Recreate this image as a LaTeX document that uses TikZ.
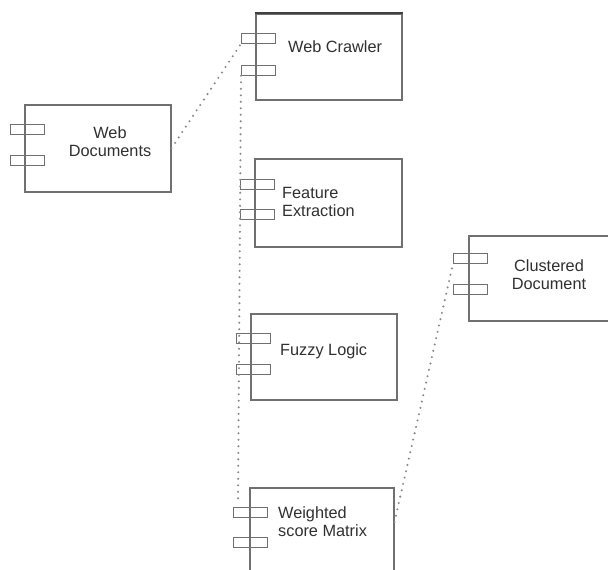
\documentclass[tikz,border=0pt]{standalone}
\usepackage{fontspec}
\setmainfont{Liberation Sans}
\usetikzlibrary{calc}
\definecolor{edgegray}{HTML}{707070}
\definecolor{dotgray}{HTML}{8A8A8A}
\definecolor{txtgray}{HTML}{303030}
\begin{document}
\begin{tikzpicture}[x=1pt,y=-1pt,
  comp/.style={draw=edgegray,line width=1.5pt,inner sep=0pt,anchor=north west},
  port/.style={draw=edgegray,line width=1.3pt,minimum width=34pt,minimum height=9.5pt,inner sep=0pt,anchor=north west},
  lbl/.style={text=txtgray,font=\fontsize{16.3}{18}\selectfont,inner sep=0pt},
  link/.style={draw=dotgray,line width=2.3pt,dash pattern=on 0pt off 6.5pt,line cap=round}]
\useasboundingbox (0,0) rectangle (608,570);
\clip (0,0) rectangle (608,570);
% component boxes
\node[comp,minimum width=146pt,minimum height=86pt] (crawler) at (255,13) {};
\node[comp,minimum width=146pt,minimum height=87pt] (docs) at (24,104) {};
\node[comp,minimum width=147pt,minimum height=88pt] (feature) at (254,158) {};
\node[comp,minimum width=146pt,minimum height=86pt] (fuzzy) at (250,313) {};
\node[comp,minimum width=144pt,minimum height=100pt] (weighted) at (249,487) {};
\node[comp,minimum width=160pt,minimum height=85pt] (clustered) at (468,235) {};
\draw[draw=black!75,line width=2.6pt] (crawler.north west) -- (crawler.north east);
% ports
\node[port] (c1) at (241,33) {};
\node[port] (c2) at (241,65) {};
\node[port] (d1) at (10,124) {};
\node[port] (d2) at (10,155) {};
\node[port] (f1) at (240,179) {};
\node[port] (f2) at (240,209) {};
\node[port] (z1) at (236,333) {};
\node[port] (z2) at (236,364) {};
\node[port] (w1) at (233,507) {};
\node[port] (w2) at (233,537) {};
\node[port] (k1) at (453,253) {};
\node[port] (k2) at (453,284) {};
% labels
\node[lbl,anchor=west] (tcrawler) at (288,47) {Web Crawler};
\node[lbl,align=center] (tdocs) at (110,141.5) {Web\\Documents};
\node[lbl,align=left,anchor=west] (tfeature) at (282,202) {Feature\\Extraction};
\node[lbl,anchor=west] (tfuzzy) at (280,351) {Fuzzy Logic};
\node[lbl,align=left,anchor=west] (tweighted) at (278,522) {Weighted\\score Matrix};
\node[lbl,align=center] (tclustered) at (549,274.5) {Clustered\\Document};
% connectors
\coordinate (wout) at ($(weighted.north east)+(0,35)$);
\coordinate (win) at ($(w1.north west)+(5,-3)$);
\draw[link] (docs.east) -- (c1.south west);
\draw[link] (c2.south west) -- (win);
\draw[link] (wout) -- (k1.south west);
\end{tikzpicture}
\end{document}
